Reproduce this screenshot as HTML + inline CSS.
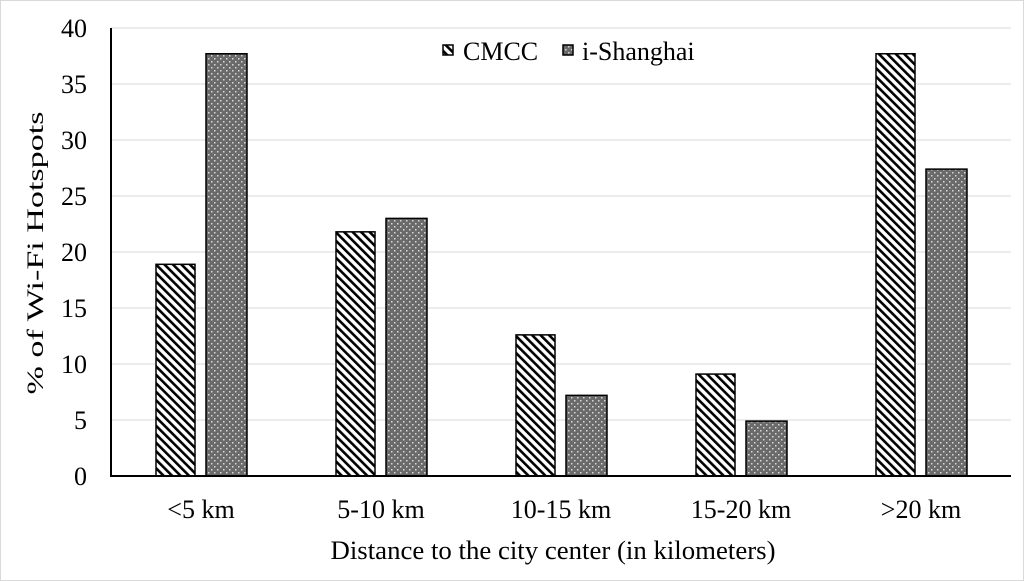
<!DOCTYPE html>
<html><head><meta charset="utf-8"><style>
html,body{margin:0;padding:0;background:#fff}
svg{display:block;font-family:"Liberation Serif",serif}
</style></head><body>
<svg id="chart" width="1024" height="581" viewBox="0 0 1024 581" xmlns="http://www.w3.org/2000/svg">
<defs>
<pattern id="hatch" patternUnits="userSpaceOnUse" width="6" height="6" patternTransform="rotate(-45)">
<rect width="6" height="6" fill="#fff"/><rect x="0" y="0" width="2.6" height="6" fill="#000"/>
</pattern>
<pattern id="dots" patternUnits="userSpaceOnUse" width="6" height="6">
<rect width="6" height="6" fill="#6a6a6a"/><rect x="1" y="1" width="1.5" height="1.5" fill="#d8d8d8"/><rect x="4" y="4" width="1.5" height="1.5" fill="#d8d8d8"/>
</pattern>
</defs>
<rect x="0.5" y="0.5" width="1023" height="580" fill="#fff" stroke="#d9d9d9"/>
<g id="grid"></g><g id="bars"></g><g id="axes"></g>
<text x="0" y="0" transform="translate(43,253) rotate(-90)" text-anchor="middle" font-size="23" textLength="283" lengthAdjust="spacingAndGlyphs">% of Wi-Fi Hotspots</text>
<text x="553" y="559" text-anchor="middle" font-size="26" textLength="445" lengthAdjust="spacingAndGlyphs">Distance to the city center (in kilometers)</text>
<g>
<g><rect x="443" y="45" width="10" height="10" fill="url(#hatch)" stroke="#000" stroke-width="1.5"/><text x="463" y="60" font-size="26">CMCC</text></g>
<g><rect x="563" y="45" width="10" height="10" fill="url(#dots)" stroke="#000" stroke-width="1.5"/><text x="582" y="60" font-size="26">i-Shanghai</text></g>
</g>
</svg>
<script>
const categories = ["<5 km","5-10 km","10-15 km","15-20 km",">20 km"];
const cmcc = [18.9, 21.8, 12.6, 9.1, 37.7];
const ishanghai = [37.7, 23.0, 7.2, 4.9, 27.4];
const yTicks = [0,5,10,15,20,25,30,35,40];
const NS="http://www.w3.org/2000/svg";
const x0=111, bandW=180, y0=476, yTop=28, yMax=40;
const y = v => y0 - v/yMax*(y0-yTop);
const xc = i => x0 + bandW*(i+0.5);
function mk(tag, attrs, parent){const e=document.createElementNS(NS,tag);for(const k in attrs)e.setAttribute(k,attrs[k]);parent.appendChild(e);return e;}
const grid=document.getElementById('grid'), bars=document.getElementById('bars'), axes=document.getElementById('axes');
yTicks.forEach(t=>{
  if(t>0){const g=mk('line',{x1:x0,x2:1011,y1:y(t),y2:y(t),stroke:'#d9d9d9','stroke-width':1},grid);
  
  }
  const l=mk('text',{x:87,y:y(t)+9,'text-anchor':'end','font-size':26},axes);l.textContent=t;
  
  
});
categories.forEach((c,i)=>{
  const b1=mk('rect',{x:xc(i)-45,y:y(cmcc[i]),width:39,height:y0-y(cmcc[i]),fill:'url(#hatch)',stroke:'#000','stroke-width':1.5},bars);
  
  
  const b2=mk('rect',{x:xc(i)+5,y:y(ishanghai[i]),width:41,height:y0-y(ishanghai[i]),fill:'url(#dots)',stroke:'#000','stroke-width':1.5},bars);
  
  
  const l=mk('text',{x:xc(i),y:518,'text-anchor':'middle','font-size':26},axes);l.textContent=c;
  
  
});
const ya=mk('line',{x1:x0,x2:x0,y1:yTop,y2:y0,stroke:'#000','stroke-width':2},axes);


const xa=mk('line',{x1:x0-1,x2:1011,y1:y0,y2:y0,stroke:'#000','stroke-width':2},axes);


</script>
</body></html>
